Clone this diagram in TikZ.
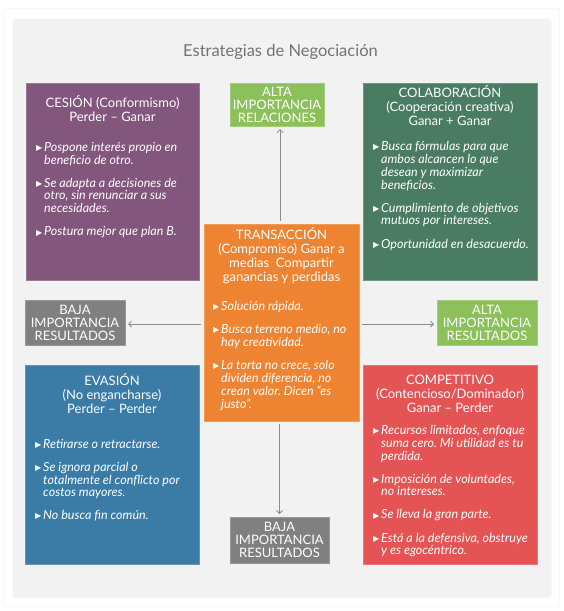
\documentclass[tikz,border=0pt]{standalone}
\usepackage{fontspec}
\setmainfont{Lato}
\newfontfamily\dvfont{DejaVu Sans}
\usetikzlibrary{arrows.meta}
\frenchspacing
\definecolor{cpurple}{HTML}{82567D}
\definecolor{cgreen}{HTML}{4A7C64}
\definecolor{corange}{HTML}{EE8431}
\definecolor{cblue}{HTML}{3A7CA6}
\definecolor{cred}{HTML}{E45454}
\definecolor{clime}{HTML}{8CC05A}
\definecolor{cgray}{HTML}{808080}
\definecolor{cpanel}{HTML}{F2F2F2}
\definecolor{cline}{HTML}{8A8A8A}
\newcommand\tri{\makebox[8pt][l]{\raisebox{0.8pt}{\dvfont\upshape\fontsize{8}{8}\selectfont ▶}}}
\newcommand\ttl[1]{\begin{tabular}[t]{@{}c@{}}#1\end{tabular}}
\newcommand\lblt[1]{\raisebox{-2pt}[\height][\depth]{\ttl{#1}}}
\newcommand\bls[1]{\begin{tabular}[t]{@{}l@{}l@{}}#1\end{tabular}}
\tikzset{
  card/.style={rectangle, inner sep=0pt, outer sep=0pt, fill=#1, draw=#1!80!white, line width=0.6pt, anchor=north west},
  ttltext/.style={anchor=base, inner sep=0pt, text=white, font=\fontsize{13}{14}\selectfont},
  bultext/.style={anchor=base west, inner sep=0pt, text=white, font=\fontsize{12.5}{12.7}\selectfont\itshape},
  lbl/.style={rectangle, inner sep=0pt, outer sep=0pt, fill=#1, draw=#1!80!white, line width=0.6pt, anchor=north west, text=white, font=\fontsize{13}{12}\selectfont},
  conn/.style={draw=cline, line width=0.8pt, -{Straight Barb[length=3pt,width=6pt]}, shorten <=3pt, shorten >=3pt},
}
\begin{document}
\begin{tikzpicture}[x=1pt,y=-1pt]
\useasboundingbox (0,0) rectangle (564,611);
\fill[white] (0,0) rectangle (564,611);
\draw[draw=black!8, fill=white, rounded corners=3pt] (3.5,8.5) rectangle (559.5,606.5);
\fill[cpanel, rounded corners=3pt] (12.5,18.5) rectangle (551.5,597.5);

\node[anchor=base, inner sep=0pt, text=black!55, font=\fontsize{16.5}{18}\selectfont] (title) at (280.5,56) {Estrategias de Negociación};

% main boxes
\node[card=cpurple, minimum width=173pt, minimum height=197pt] (cesion) at (26,83) {};
\node[card=cgreen, minimum width=174pt, minimum height=197pt] (colab) at (363,83) {};
\node[card=corange, minimum width=155pt, minimum height=197pt] (trans) at (204,224) {};
\node[card=cblue, minimum width=174pt, minimum height=199pt] (evas) at (25,365) {};
\node[card=cred, minimum width=174pt, minimum height=199pt] (comp) at (363,365) {};

% labels
\node[lbl=clime, minimum width=94pt, minimum height=43pt] (altaT) at (230,83) {\lblt{ALTA\\IMPORTANCIA\\RELACIONES}};
\node[lbl=cgray, minimum width=100pt, minimum height=45pt] (bajaL) at (25,300) {\lblt{BAJA\\IMPORTANCIA\\RESULTADOS}};
\node[lbl=clime, minimum width=100pt, minimum height=45pt] (altaR) at (437,300) {\lblt{ALTA\\IMPORTANCIA\\RESULTADOS}};
\node[lbl=cgray, minimum width=99pt, minimum height=46pt] (bajaB) at (230,517) {\lblt{BAJA\\IMPORTANCIA\\RESULTADOS}};

% CESION text
\node[ttltext] (cesionT) at (112.5,107) {\ttl{CESIÓN (Conformismo)\\Perder – Ganar}};
\node[bultext] (cesionB) at (36,151) {\bls{
\tri & Pospone interés propio en\\
 & beneficio de otro.\\[10pt]
\tri & Se adapta a decisiones de\\
 & otro, sin renunciar a sus\\
 & necesidades.\\[10pt]
\tri & Postura mejor que plan B.}};

% COLABORACION text
\node[ttltext] (colabT) at (450,97) {\ttl{COLABORACIÓN\\(Cooperación creativa)\\Ganar + Ganar}};
\node[bultext] (colabB) at (373,150) {\bls{
\tri & Busca fórmulas para que\\
 & ambos alcancen lo que\\
 & desean y maximizar\\
 & beneficios.\\[10pt]
\tri & Cumplimiento de objetivos\\
 & mutuos por intereses.\\[10pt]
\tri & Oportunidad en desacuerdo.}};

% TRANSACCION text
\node[ttltext] (transT) at (281.5,239) {\ttl{TRANSACCIÓN\\(Compromiso) Ganar a\\medias\ \ Compartir\\ganancias y perdidas}};
\node[bultext] (transB) at (213,310) {\bls{
\tri & Solución rápida.\\[10pt]
\tri & Busca terreno medio, no\\
 & hay creatividad.\\[10pt]
\tri & La torta no crece, solo\\
 & dividen diferencia, no\\
 & crean valor. Dicen “es\\
 & justo”.}};

% EVASION text
\node[ttltext] (evasT) at (112,385) {\ttl{EVASIÓN\\(No engancharse)\\Perder – Perder}};
\node[bultext] (evasB) at (35,448) {\bls{
\tri & Retirarse o retractarse.\\[10pt]
\tri & Se ignora parcial o\\
 & totalmente el conflicto por\\
 & costos mayores.\\[10pt]
\tri & No busca fin común.}};

% COMPETITIVO text
\node[ttltext] (compT) at (450,384) {\ttl{COMPETITIVO\\(Contencioso/Dominador)\\Ganar – Perder}};
\node[bultext] (compB) at (373,434) {\bls{
\tri & Recursos limitados, enfoque\\
 & suma cero. Mi utilidad es tu\\
 & perdida.\\[10pt]
\tri & Imposición de voluntades,\\
 & no intereses.\\[10pt]
\tri & Se lleva la gran parte.\\[10pt]
\tri & Está a la defensiva, obstruye\\
 & y es egocéntrico.}};

% connectors
\draw[conn] (trans.north -| 280,0) -- (altaT.south -| 280,0);
\draw[conn] (trans.south -| 279.5,0) -- (bajaB.north -| 279.5,0);
\draw[conn] (trans.west |- 0,324) -- (bajaL.east |- 0,324);
\draw[conn] (trans.east |- 0,324) -- (altaR.west |- 0,324);
\end{tikzpicture}
\end{document}
